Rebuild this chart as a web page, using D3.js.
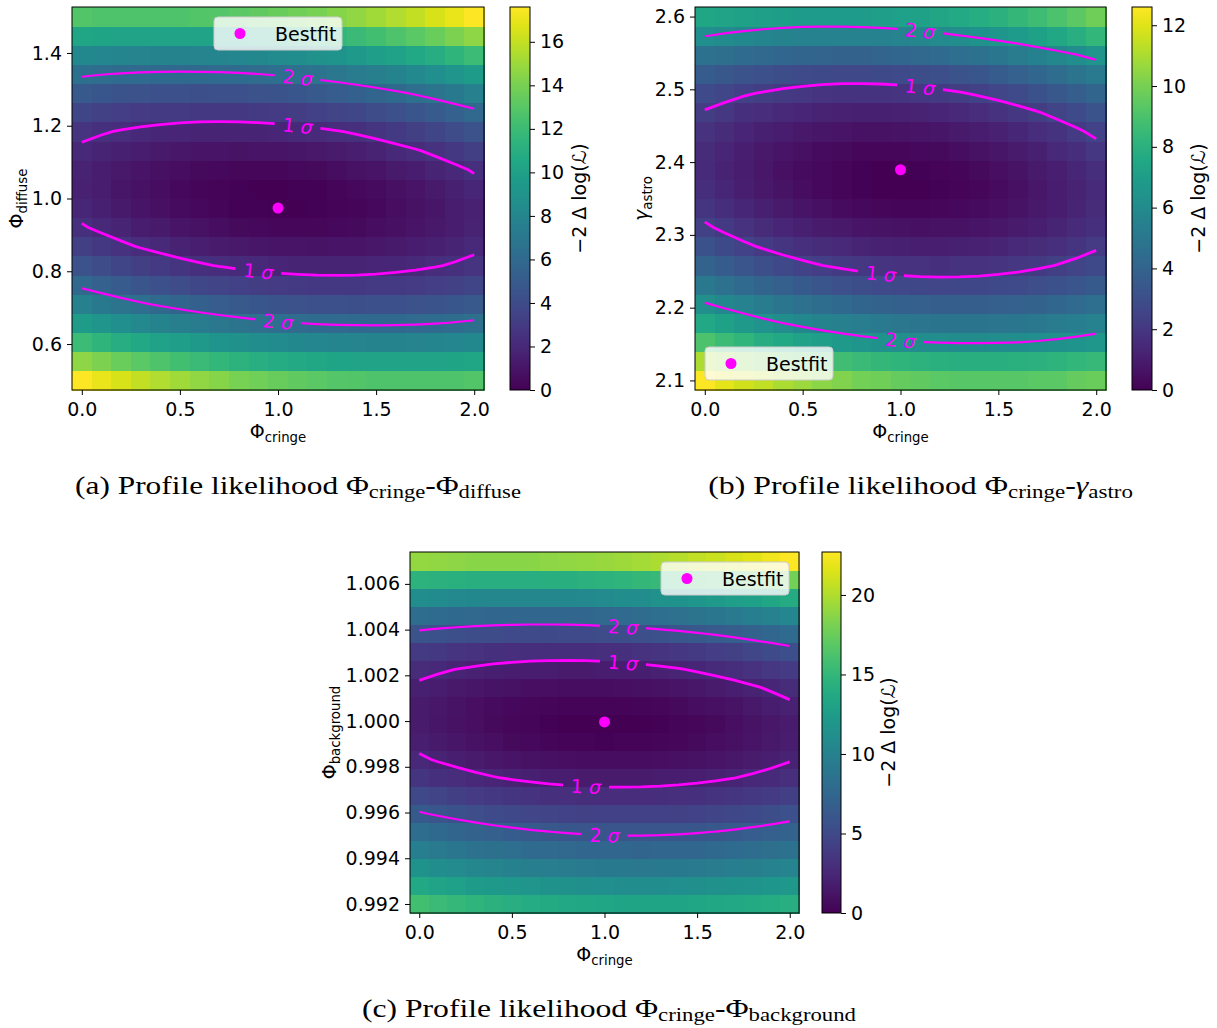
<!DOCTYPE html>
<meta charset="utf-8">
<body style="margin:0; background:#fff">
<script src="https://cdn.jsdelivr.net/npm/d3@7"></script>
<div id="figure"></div>
<script>

// scan grid of the profile likelihood
const cringe = [0.0, 0.1, 0.2, 0.3, 0.4, 0.5, 0.6, 0.7, 0.8, 0.9, 1.0, 1.1, 1.2, 1.3, 1.4, 1.5, 1.6, 1.7, 1.8, 1.9, 2.0];
const diffuse = [0.5, 0.5526, 0.6053, 0.6579, 0.7105, 0.7632, 0.8158, 0.8684, 0.9211, 0.9737,
                 1.0263, 1.0789, 1.1316, 1.1842, 1.2368, 1.2895, 1.3421, 1.3947, 1.4474, 1.5];
const astro = [2.1, 2.1263, 2.1526, 2.1789, 2.2053, 2.2316, 2.2579, 2.2842, 2.3105, 2.3368,
               2.3632, 2.3895, 2.4158, 2.4421, 2.4684, 2.4947, 2.5211, 2.5474, 2.5737, 2.6];
const background = [0.992, 0.992789, 0.993579, 0.994368, 0.995158, 0.995947, 0.996737, 0.997526, 0.998316, 0.999105,
                    0.999895, 1.000684, 1.001474, 1.002263, 1.003053, 1.003842, 1.004632, 1.005421, 1.006211, 1.007];

// -2 Delta log(L): one row per y value (lowest first), one column per cringe value
const llhDiffuse = [
  [17.6, 17.0, 16.5, 16.0, 15.5, 15.1, 14.7, 14.4, 14.0, 13.8, 13.5, 13.3, 13.1, 12.9, 12.8, 12.7, 12.7, 12.7, 12.7, 12.7, 12.8],
  [14.6, 14.1, 13.6, 13.1, 12.7, 12.3, 11.9, 11.6, 11.3, 11.0, 10.8, 10.6, 10.5, 10.3, 10.2, 10.2, 10.2, 10.2, 10.2, 10.3, 10.4],
  [11.98, 11.47, 10.99, 10.55, 10.14, 9.77, 9.43, 9.12, 8.85, 8.61, 8.41, 8.24, 8.11, 8.00, 7.94, 7.90, 7.90, 7.94, 8.00, 8.11, 8.24],
  [9.64, 9.15, 8.70, 8.29, 7.90, 7.55, 7.24, 6.96, 6.71, 6.50, 6.32, 6.18, 6.06, 5.99, 5.95, 5.94, 5.96, 6.02, 6.11, 6.24, 6.40],
  [7.60, 7.14, 6.71, 6.32, 5.96, 5.64, 5.35, 5.09, 4.87, 4.68, 4.53, 4.41, 4.32, 4.27, 4.25, 4.27, 4.32, 4.41, 4.52, 4.68, 4.86],
  [5.85, 5.42, 5.01, 4.65, 4.31, 4.02, 3.75, 3.52, 3.32, 3.16, 3.03, 2.94, 2.87, 2.85, 2.85, 2.90, 2.97, 3.08, 3.22, 3.40, 3.61],
  [4.40, 3.99, 3.62, 3.27, 2.97, 2.69, 2.45, 2.24, 2.07, 1.93, 1.83, 1.76, 1.72, 1.72, 1.75, 1.82, 1.92, 2.05, 2.22, 2.42, 2.66],
  [3.26, 2.88, 2.53, 2.21, 1.93, 1.68, 1.46, 1.28, 1.13, 1.02, 0.94, 0.90, 0.88, 0.91, 0.96, 1.05, 1.18, 1.34, 1.53, 1.76, 2.02],
  [2.41, 2.05, 1.73, 1.43, 1.18, 0.95, 0.76, 0.61, 0.48, 0.39, 0.34, 0.32, 0.33, 0.38, 0.46, 0.58, 0.73, 0.91, 1.13, 1.38, 1.67],
  [1.86, 1.53, 1.23, 0.96, 0.73, 0.53, 0.36, 0.23, 0.13, 0.07, 0.04, 0.05, 0.08, 0.16, 0.26, 0.40, 0.58, 0.79, 1.03, 1.31, 1.62],
  [1.62, 1.31, 1.03, 0.79, 0.58, 0.40, 0.26, 0.16, 0.08, 0.05, 0.04, 0.07, 0.13, 0.23, 0.36, 0.53, 0.73, 0.96, 1.23, 1.53, 1.86],
  [1.67, 1.38, 1.13, 0.91, 0.73, 0.58, 0.46, 0.38, 0.33, 0.32, 0.34, 0.39, 0.48, 0.61, 0.76, 0.95, 1.18, 1.43, 1.73, 2.05, 2.41],
  [2.02, 1.76, 1.53, 1.34, 1.18, 1.05, 0.96, 0.91, 0.88, 0.90, 0.94, 1.02, 1.13, 1.28, 1.46, 1.68, 1.93, 2.21, 2.53, 2.88, 3.26],
  [2.66, 2.42, 2.22, 2.05, 1.92, 1.82, 1.75, 1.72, 1.72, 1.76, 1.83, 1.93, 2.07, 2.24, 2.45, 2.69, 2.97, 3.27, 3.62, 3.99, 4.40],
  [3.61, 3.40, 3.22, 3.08, 2.97, 2.90, 2.85, 2.85, 2.87, 2.94, 3.03, 3.16, 3.32, 3.52, 3.75, 4.02, 4.31, 4.65, 5.01, 5.42, 5.85],
  [4.86, 4.68, 4.52, 4.41, 4.32, 4.27, 4.25, 4.27, 4.32, 4.41, 4.53, 4.68, 4.87, 5.09, 5.35, 5.64, 5.96, 6.32, 6.71, 7.14, 7.60],
  [6.40, 6.24, 6.11, 6.02, 5.96, 5.94, 5.95, 5.99, 6.06, 6.18, 6.32, 6.50, 6.71, 6.96, 7.24, 7.55, 7.90, 8.29, 8.70, 9.15, 9.64],
  [8.24, 8.11, 8.00, 7.94, 7.90, 7.90, 7.94, 8.00, 8.11, 8.24, 8.41, 8.61, 8.85, 9.12, 9.43, 9.77, 10.14, 10.55, 10.99, 11.47, 11.98],
  [10.4, 10.3, 10.2, 10.2, 10.2, 10.2, 10.2, 10.3, 10.5, 10.6, 10.8, 11.0, 11.3, 11.6, 11.9, 12.3, 12.7, 13.1, 13.6, 14.1, 14.6],
  [12.8, 12.7, 12.7, 12.7, 12.7, 12.7, 12.8, 12.9, 13.1, 13.3, 13.5, 13.8, 14.0, 14.4, 14.7, 15.1, 15.5, 16.0, 16.5, 17.0, 17.6]
];

const llhAstro = [
  [12.6, 12.1, 11.7, 11.4, 11.0, 10.7, 10.4, 10.2, 9.9, 9.8, 9.6, 9.5, 9.4, 9.3, 9.3, 9.3, 9.3, 9.4, 9.4, 9.6, 9.7],
  [11.04, 10.62, 10.23, 9.87, 9.53, 9.24, 8.97, 8.73, 8.52, 8.35, 8.20, 8.09, 8.00, 7.95, 7.93, 7.94, 7.98, 8.06, 8.16, 8.29, 8.46],
  [9.01, 8.60, 8.22, 7.87, 7.55, 7.27, 7.01, 6.79, 6.59, 6.43, 6.30, 6.20, 6.13, 6.09, 6.09, 6.11, 6.16, 6.25, 6.37, 6.52, 6.69],
  [7.57, 7.17, 6.81, 6.47, 6.17, 5.90, 5.66, 5.45, 5.27, 5.12, 5.00, 4.91, 4.86, 4.83, 4.84, 4.88, 4.95, 5.05, 5.18, 5.34, 5.53],
  [6.26, 5.88, 5.53, 5.21, 4.92, 4.66, 4.43, 4.24, 4.07, 3.93, 3.83, 3.76, 3.72, 3.71, 3.73, 3.78, 3.86, 3.97, 4.12, 4.29, 4.50],
  [5.04, 4.67, 4.33, 4.02, 3.75, 3.50, 3.29, 3.10, 2.95, 2.83, 2.74, 2.68, 2.65, 2.66, 2.69, 2.76, 2.85, 2.98, 3.14, 3.33, 3.54],
  [3.98, 3.62, 3.30, 3.01, 2.74, 2.51, 2.31, 2.14, 2.00, 1.90, 1.82, 1.78, 1.76, 1.78, 1.82, 1.90, 2.01, 2.15, 2.33, 2.53, 2.76],
  [3.12, 2.78, 2.47, 2.19, 1.94, 1.72, 1.54, 1.38, 1.26, 1.16, 1.10, 1.07, 1.07, 1.10, 1.16, 1.25, 1.38, 1.53, 1.71, 1.93, 2.18],
  [2.44, 2.11, 1.81, 1.55, 1.31, 1.11, 0.93, 0.79, 0.68, 0.60, 0.55, 0.53, 0.55, 0.59, 0.66, 0.77, 0.91, 1.08, 1.27, 1.50, 1.77],
  [1.94, 1.63, 1.34, 1.09, 0.87, 0.68, 0.52, 0.39, 0.29, 0.23, 0.19, 0.19, 0.21, 0.27, 0.36, 0.48, 0.63, 0.81, 1.02, 1.27, 1.54],
  [1.63, 1.33, 1.06, 0.82, 0.62, 0.44, 0.29, 0.18, 0.09, 0.04, 0.02, 0.03, 0.07, 0.14, 0.24, 0.38, 0.54, 0.74, 0.96, 1.22, 1.51],
  [1.51, 1.22, 0.96, 0.74, 0.54, 0.38, 0.25, 0.15, 0.08, 0.04, 0.01, 0.05, 0.11, 0.19, 0.31, 0.46, 0.63, 0.84, 1.08, 1.35, 1.66],
  [1.56, 1.29, 1.04, 0.83, 0.65, 0.50, 0.38, 0.30, 0.24, 0.22, 0.22, 0.26, 0.32, 0.42, 0.55, 0.71, 0.91, 1.13, 1.38, 1.67, 1.98],
  [1.80, 1.54, 1.31, 1.12, 0.95, 0.81, 0.71, 0.64, 0.59, 0.58, 0.60, 0.65, 0.73, 0.85, 0.99, 1.16, 1.37, 1.60, 1.87, 2.17, 2.50],
  [2.22, 1.98, 1.76, 1.58, 1.43, 1.31, 1.21, 1.15, 1.13, 1.13, 1.16, 1.23, 1.32, 1.45, 1.60, 1.79, 2.01, 2.26, 2.54, 2.85, 3.20],
  [2.84, 2.61, 2.40, 2.24, 2.10, 1.99, 1.91, 1.86, 1.85, 1.86, 1.91, 1.99, 2.10, 2.24, 2.41, 2.61, 2.84, 3.11, 3.40, 3.73, 4.08],
  [3.63, 3.41, 3.22, 3.07, 2.94, 2.85, 2.78, 2.75, 2.75, 2.78, 2.84, 2.93, 3.05, 3.21, 3.39, 3.61, 3.85, 4.13, 4.44, 4.78, 5.15],
  [4.75, 4.55, 4.38, 4.23, 4.12, 4.04, 3.99, 3.97, 3.98, 4.03, 4.10, 4.21, 4.34, 4.51, 4.71, 4.94, 5.20, 5.49, 5.81, 6.16, 6.55],
  [6.22, 6.03, 5.87, 5.74, 5.64, 5.57, 5.54, 5.53, 5.56, 5.61, 5.70, 5.82, 5.97, 6.15, 6.36, 6.61, 6.88, 7.18, 7.52, 7.89, 8.28],
  [7.48, 7.30, 7.16, 7.04, 6.96, 6.90, 6.88, 6.89, 6.93, 7.00, 7.10, 7.23, 7.40, 7.59, 7.82, 8.07, 8.36, 8.68, 9.03, 9.41, 9.82]
];

const llhBackground = [
  [15.8, 15.4, 15.1, 14.8, 14.5, 14.2, 14.0, 13.8, 13.6, 13.5, 13.4, 13.3, 13.3, 13.3, 13.3, 13.4, 13.5, 13.6, 13.8, 14.0, 14.2],
  [13.6, 13.2, 12.8, 12.5, 12.2, 12.0, 11.8, 11.6, 11.4, 11.3, 11.2, 11.1, 11.1, 11.1, 11.2, 11.3, 11.4, 11.5, 11.7, 11.9, 12.1],
  [11.5, 11.1, 10.8, 10.5, 10.2, 9.9, 9.7, 9.5, 9.4, 9.3, 9.2, 9.2, 9.1, 9.2, 9.2, 9.3, 9.4, 9.6, 9.7, 10.0, 10.2],
  [9.60, 9.23, 8.90, 8.60, 8.33, 8.09, 7.89, 7.72, 7.58, 7.47, 7.40, 7.36, 7.35, 7.38, 7.44, 7.53, 7.65, 7.81, 8.00, 8.22, 8.48],
  [8.02, 7.66, 7.33, 7.04, 6.78, 6.55, 6.35, 6.19, 6.06, 5.96, 5.90, 5.87, 5.87, 5.90, 5.97, 6.07, 6.20, 6.37, 6.57, 6.80, 7.06],
  [6.34, 5.99, 5.67, 5.38, 5.13, 4.91, 4.72, 4.57, 4.45, 4.36, 4.30, 4.28, 4.29, 4.33, 4.40, 4.51, 4.65, 4.82, 5.03, 5.27, 5.54],
  [4.88, 4.54, 4.23, 3.95, 3.70, 3.49, 3.31, 3.16, 3.05, 2.97, 2.92, 2.90, 2.92, 2.97, 3.05, 3.17, 3.32, 3.50, 3.71, 3.96, 4.24],
  [3.51, 3.17, 2.87, 2.60, 2.36, 2.16, 1.99, 1.85, 1.74, 1.67, 1.63, 1.62, 1.65, 1.71, 1.80, 1.92, 2.08, 2.27, 2.49, 2.74, 3.03],
  [2.51, 2.18, 1.89, 1.63, 1.40, 1.20, 1.04, 0.91, 0.81, 0.74, 0.71, 0.71, 0.74, 0.81, 0.91, 1.04, 1.20, 1.40, 1.63, 1.89, 2.19],
  [1.89, 1.57, 1.28, 1.03, 0.81, 0.62, 0.46, 0.34, 0.25, 0.19, 0.17, 0.18, 0.22, 0.29, 0.40, 0.54, 0.71, 0.92, 1.16, 1.43, 1.73],
  [1.64, 1.33, 1.05, 0.81, 0.59, 0.42, 0.27, 0.16, 0.07, 0.03, 0.01, 0.03, 0.08, 0.16, 0.28, 0.43, 0.61, 0.82, 1.07, 1.35, 1.66],
  [1.63, 1.34, 1.08, 0.86, 0.66, 0.51, 0.38, 0.29, 0.22, 0.20, 0.20, 0.24, 0.31, 0.41, 0.55, 0.72, 0.92, 1.15, 1.42, 1.72, 2.05],
  [2.01, 1.74, 1.50, 1.30, 1.12, 0.99, 0.88, 0.81, 0.76, 0.76, 0.78, 0.84, 0.93, 1.05, 1.21, 1.40, 1.62, 1.87, 2.16, 2.48, 2.83],
  [2.75, 2.50, 2.28, 2.10, 1.94, 1.83, 1.74, 1.69, 1.66, 1.68, 1.72, 1.80, 1.91, 2.05, 2.23, 2.44, 2.68, 2.95, 3.26, 3.60, 3.97],
  [3.87, 3.64, 3.44, 3.28, 3.14, 3.05, 2.98, 2.95, 2.94, 2.98, 3.04, 3.14, 3.27, 3.43, 3.63, 3.86, 4.12, 4.41, 4.74, 5.10, 5.49],
  [5.83, 5.62, 5.44, 5.30, 5.18, 5.11, 5.06, 5.05, 5.06, 5.12, 5.20, 5.32, 5.47, 5.65, 5.87, 6.12, 6.40, 6.71, 7.06, 7.44, 7.85],
  [8.03, 7.84, 7.68, 7.56, 7.46, 7.41, 7.38, 7.39, 7.42, 7.50, 7.60, 7.74, 7.91, 8.11, 8.35, 8.62, 8.92, 9.25, 9.62, 10.02, 10.45],
  [11.0, 10.9, 10.7, 10.6, 10.5, 10.5, 10.5, 10.5, 10.6, 10.7, 10.8, 11.0, 11.1, 11.4, 11.6, 11.9, 12.2, 12.6, 13.0, 13.4, 13.9],
  [14.6, 14.5, 14.4, 14.3, 14.2, 14.2, 14.2, 14.3, 14.3, 14.5, 14.6, 14.8, 15.0, 15.2, 15.5, 15.8, 16.2, 16.5, 16.9, 17.4, 17.9],
  [19.0, 18.9, 18.8, 18.7, 18.7, 18.7, 18.7, 18.8, 18.9, 19.0, 19.2, 19.4, 19.6, 19.9, 20.2, 20.5, 20.9, 21.3, 21.7, 22.2, 22.7]
];

const bestfitDiffuse = [1.0, 0.9737];
const bestfitAstro = [1.0, 2.3895];
const bestfitBackground = [1.0, 0.99996];

// 1 and 2 sigma for two parameters
const sigmaLevels = [2.30, 6.18];
const sigmaNames = ['1', '2'];

const xTicks = [0.0, 0.5, 1.0, 1.5, 2.0];
const yTicksDiffuse = [0.6, 0.8, 1.0, 1.2, 1.4];
const yTicksAstro = [2.1, 2.2, 2.3, 2.4, 2.5, 2.6];
const yTicksBackground = [0.992, 0.994, 0.996, 0.998, 1.000, 1.002, 1.004, 1.006];
const cbTicksDiffuse = [0, 2, 4, 6, 8, 10, 12, 14, 16];
const cbTicksAstro = [0, 2, 4, 6, 8, 10, 12];
const cbTicksBackground = [0, 5, 10, 15, 20];

const W = 1217, H = 1028;
const magenta = '#ff00ff';
const fs = 19;

const panels = [
  {key: 'a', ys: diffuse, z: llhDiffuse, best: bestfitDiffuse, yTicks: yTicksDiffuse, yFormat: '.1f',
   cbTicks: cbTicksDiffuse, yName: ['Φ', 'diffuse', false],
   box: {x0: 72, x1: 484, y0: 7, y1: 390}, cbX: 510, cbW: 20, yLabelX: 23, cbLabelX: 579, legend: 'upper center',
   caption: [['(a) Profile likelihood Φ'], ['cringe', 'sub'], ['-Φ'], ['diffuse', 'sub']],
   capX: 298, capY: 494, capW: 446},
  {key: 'b', ys: astro, z: llhAstro, best: bestfitAstro, yTicks: yTicksAstro, yFormat: '.1f',
   cbTicks: cbTicksAstro, yName: ['γ', 'astro', true],
   box: {x0: 695, x1: 1106, y0: 7, y1: 390}, cbX: 1132, cbW: 20, yLabelX: 648, cbLabelX: 1198, legend: 'lower left',
   caption: [['(b) Profile likelihood Φ'], ['cringe', 'sub'], ['-'], ['γ', 'it'], ['astro', 'sub']],
   capX: 920.5, capY: 494, capW: 425},
  {key: 'c', ys: background, z: llhBackground, best: bestfitBackground, yTicks: yTicksBackground, yFormat: '.3f',
   cbTicks: cbTicksBackground, yName: ['Φ', 'background', false],
   box: {x0: 410, x1: 799, y0: 552, y1: 913}, cbX: 822, cbW: 19, yLabelX: 336, cbLabelX: 888, legend: 'upper right',
   caption: [['(c) Profile likelihood Φ'], ['cringe', 'sub'], ['-Φ'], ['background', 'sub']],
   capX: 609, capY: 1017, capW: 494}
];

const svg = d3.select('#figure').append('svg')
  .attr('width', W).attr('height', H)
  .attr('font-family', 'DejaVu Sans, sans-serif');
const defs = svg.append('defs');

function edges(v) {
  const mid = d3.pairs(v, (a, b) => (a + b) / 2);
  return [v[0] - (mid[0] - v[0]), ...mid, v[v.length - 1] + (v[v.length - 1] - mid[mid.length - 1])];
}

// cut the closed contour rings open where they run along the grid border
function splitRing(ring, nx, ny) {
  const inside = pt => pt[0] > 0 && pt[0] < nx && pt[1] > 0 && pt[1] < ny;
  const pts = ring.slice(0, -1);
  const out = [];
  let cur = [];
  pts.forEach(pt => {
    if (inside(pt)) cur.push(pt);
    else { if (cur.length) out.push(cur); cur = []; }
  });
  if (cur.length) {
    if (out.length && inside(pts[0])) out[0] = cur.concat(out[0]);
    else out.push(cur);
  }
  return out.filter(l => l.length > 1);
}

function yAt(line, px) {
  for (let i = 0; i < line.length - 1; i++) {
    const [ax, ay] = line[i], [bx, by] = line[i + 1];
    if ((ax - px) * (bx - px) <= 0 && ax !== bx) return ay + (px - ax) / (bx - ax) * (by - ay);
  }
  return null;
}

function mathLabel(sel, main, sub, italic, size) {
  sel.append('tspan').attr('font-style', italic ? 'italic' : null).text(main);
  sel.append('tspan').attr('font-size', size * 0.7).attr('dy', size * 0.22).text(sub);
}

function drawPanel(p) {
  const {x0, x1, y0, y1} = p.box;
  const g = svg.append('g');
  const xE = edges(cringe), yE = edges(p.ys);
  const x = d3.scaleLinear().domain([xE[0], xE[xE.length - 1]]).range([x0, x1]);
  const y = d3.scaleLinear().domain([yE[0], yE[yE.length - 1]]).range([y1, y0]);
  const vmax = d3.max(p.z.flat());
  const color = d3.scaleSequential(d3.interpolateViridis).domain([0, vmax]);

  // heat map cells
  const cells = p.z.flatMap((row, j) => row.map((v, i) => ({i, j, v})));
  g.append('g').attr('shape-rendering', 'crispEdges')
    .selectAll('rect').data(cells).join('rect')
    .attr('x', d => x(xE[d.i]))
    .attr('y', d => y(yE[d.j + 1]))
    .attr('width', d => x(xE[d.i + 1]) - x(xE[d.i]) + 0.5)
    .attr('height', d => y(yE[d.j]) - y(yE[d.j + 1]) + 0.5)
    .attr('fill', d => color(d.v));

  // contours
  const nx = cringe.length, ny = p.ys.length;
  const flat = [];
  for (let r = 0; r < ny; r++) flat.push(...p.z[ny - 1 - r]);
  const gx = d3.scaleLinear().domain([0.5, nx - 0.5]).range([cringe[0], cringe[nx - 1]]);
  const gy = d3.scaleLinear().domain([0.5, ny - 0.5]).range([p.ys[ny - 1], p.ys[0]]);
  const polys = d3.contours().size([nx, ny]).thresholds(sigmaLevels)(flat);

  const mask = defs.append('mask').attr('id', 'gap-' + p.key)
    .attr('maskUnits', 'userSpaceOnUse').attr('x', 0).attr('y', 0).attr('width', W).attr('height', H);
  mask.append('rect').attr('width', W).attr('height', H).attr('fill', 'white');

  const lineG = g.append('g').attr('mask', `url(#gap-${p.key})`);
  const labelG = g.append('g');
  const bestPy = y(p.best[1]);
  const labelAt = {top: [1.1, 1.1], bottom: [0.9, 1.0]};

  polys.forEach((mp, k) => {
    const lines = [];
    mp.coordinates.forEach(poly => poly.forEach(ring => lines.push(...splitRing(ring, nx, ny))));
    lines.forEach(line => {
      const pix = line.map(([cx, cy]) => [x(gx(cx)), y(gy(cy))]).sort((a, b) => a[0] - b[0]);
      lineG.append('path')
        .attr('d', d3.line()(pix))
        .attr('fill', 'none').attr('stroke', magenta)
        .attr('stroke-width', k === 0 ? 2.8 : 2.2);
      const side = d3.mean(pix, d => d[1]) < bestPy ? 'top' : 'bottom';
      const lx = x(labelAt[side][k]);
      const ly = yAt(pix, lx);
      if (ly == null) return;
      const ang = Math.atan2(yAt(pix, lx + 15) - yAt(pix, lx - 15), 30) * 180 / Math.PI;
      const tr = `translate(${lx},${ly}) rotate(${ang})`;
      mask.append('rect').attr('x', -23).attr('y', -13).attr('width', 46).attr('height', 26)
        .attr('fill', 'black').attr('transform', tr);
      const t = labelG.append('text').attr('transform', tr)
        .attr('text-anchor', 'middle').attr('dominant-baseline', 'central')
        .attr('fill', magenta).attr('font-size', fs);
      t.append('tspan').text(sigmaNames[k] + '\u00a0');
      t.append('tspan').attr('font-style', 'italic').text('σ');
    });
  });

  // best fit point
  g.append('circle').attr('cx', x(p.best[0])).attr('cy', y(p.best[1])).attr('r', 5.5).attr('fill', magenta);

  // legend
  const lw = 128, lh = 33;
  let lx0, ly0;
  if (p.legend === 'upper center') { lx0 = (x0 + x1) / 2 - lw / 2; ly0 = y0 + 10; }
  else if (p.legend === 'lower left') { lx0 = x0 + 10; ly0 = y1 - 10 - lh; }
  else { lx0 = x1 - 10 - lw; ly0 = y0 + 10; }
  const lg = g.append('g').attr('transform', `translate(${lx0},${ly0})`);
  lg.append('rect').attr('width', lw).attr('height', lh).attr('rx', 4)
    .attr('fill', 'white').attr('fill-opacity', 0.8).attr('stroke', '#cccccc');
  lg.append('circle').attr('cx', 26).attr('cy', lh / 2).attr('r', 5.5).attr('fill', magenta);
  lg.append('text').attr('x', 61).attr('y', lh / 2 + 7).attr('font-size', fs).text('Bestfit');

  // frame and axes
  g.append('rect').attr('x', x0).attr('y', y0).attr('width', x1 - x0).attr('height', y1 - y0)
    .attr('fill', 'none').attr('stroke', 'black').attr('stroke-width', 1);
  g.append('g').attr('transform', `translate(0,${y1})`)
    .call(d3.axisBottom(x).tickValues(xTicks).tickFormat(d3.format('.1f')).tickSize(5).tickPadding(8))
    .call(s => s.select('.domain').remove())
    .attr('font-size', fs).attr('font-family', null);
  g.append('g').attr('transform', `translate(${x0},0)`)
    .call(d3.axisLeft(y).tickValues(p.yTicks).tickFormat(d3.format(p.yFormat)).tickSize(5).tickPadding(5))
    .call(s => s.select('.domain').remove())
    .attr('font-size', fs).attr('font-family', null);

  const xl = g.append('text').attr('x', (x0 + x1) / 2).attr('y', y1 + 48)
    .attr('text-anchor', 'middle').attr('font-size', fs);
  mathLabel(xl, 'Φ', 'cringe', false, fs);
  const yl = g.append('text').attr('transform', `translate(${p.yLabelX},${(y0 + y1) / 2}) rotate(-90)`)
    .attr('text-anchor', 'middle').attr('font-size', fs);
  mathLabel(yl, p.yName[0], p.yName[1], p.yName[2], fs);

  // colour bar
  const gid = 'viridis-' + p.key;
  const grad = defs.append('linearGradient').attr('id', gid)
    .attr('x1', 0).attr('y1', 1).attr('x2', 0).attr('y2', 0);
  d3.range(0, 1.0001, 0.05).forEach(t => grad.append('stop')
    .attr('offset', t).attr('stop-color', d3.interpolateViridis(t)));
  g.append('rect').attr('x', p.cbX).attr('y', y0).attr('width', p.cbW).attr('height', y1 - y0)
    .attr('fill', `url(#${gid})`).attr('stroke', 'black').attr('stroke-width', 1);
  const cy = d3.scaleLinear().domain([0, vmax]).range([y1, y0]);
  g.append('g').attr('transform', `translate(${p.cbX + p.cbW},0)`)
    .call(d3.axisRight(cy).tickValues(p.cbTicks).tickFormat(d3.format('d')).tickSize(5).tickPadding(5))
    .call(s => s.select('.domain').remove())
    .attr('font-size', fs).attr('font-family', null);
  const cl = g.append('text').attr('transform', `translate(${p.cbLabelX},${(y0 + y1) / 2}) rotate(-90)`)
    .attr('text-anchor', 'middle').attr('dominant-baseline', 'central').attr('font-size', fs);
  cl.append('tspan').text('−2\u00a0Δ\u00a0log(');
  cl.append('tspan').attr('font-style', 'italic').text('ℒ');
  cl.append('tspan').text(')');
}

panels.forEach(drawPanel);

// sub captions, serif like the LaTeX document; widened to the width they have in the paper
const capSize = 26;
panels.forEach(p => {
  const cg = svg.append('g');
  const t = cg.append('text').attr('text-anchor', 'middle')
    .attr('font-family', 'Liberation Serif, serif').attr('font-size', capSize);
  let low = false;
  p.caption.forEach(([s, kind]) => {
    const sp = t.append('tspan').text(s);
    if (kind === 'sub') { sp.attr('font-size', capSize * 0.72).attr('dy', low ? 0 : capSize * 0.16); low = true; }
    else { if (low) sp.attr('dy', -capSize * 0.16); low = false; }
    if (kind === 'it') sp.attr('font-style', 'italic');
  });
  const sx = p.capW / t.node().getComputedTextLength();
  cg.attr('transform', `translate(${p.capX},${p.capY}) scale(${sx},1)`);
});

</script>
